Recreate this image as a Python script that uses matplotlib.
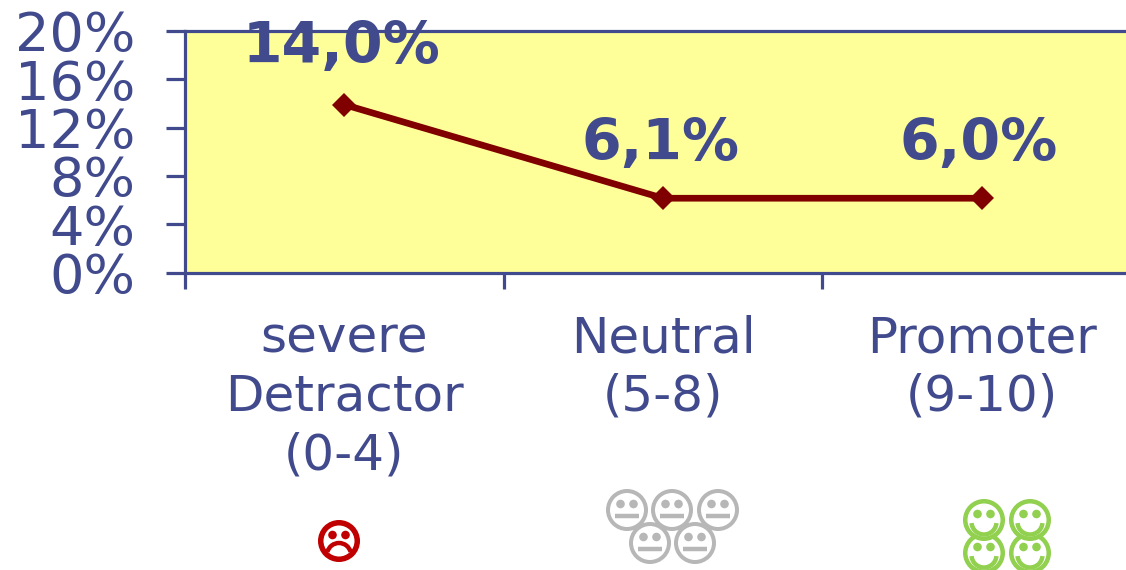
import matplotlib
matplotlib.use('Agg')
import matplotlib.pyplot as plt
from matplotlib.patches import Circle, Arc

categories = ['severe\nDetractor\n(0-4)', 'Neutral\n(5-8)', 'Promoter\n(9-10)']
rates = [13.9, 6.15, 6.15]
rate_labels = ['14,0%', '6,1%', '6,0%']
y_ticks = [0, 4, 8, 12, 16, 20]
y_tick_labels = ['0%', '4%', '8%', '12%', '16%', '20%']

blue = '#404A8C'
W, H = 1126, 570

plt.rcParams['font.family'] = 'DejaVu Sans'
fig = plt.figure(figsize=(W / 100, H / 100), dpi=100)

# plot area runs past the right edge of the picture
ax = fig.add_axes([185 / W, 1 - 272.5 / H, 956 / W, 241.5 / H])
ax.set_facecolor('#FFFF99')
ax.plot(range(3), rates, color='#800000', lw=4.8, marker='D', ms=12.5, mew=0, clip_on=False)

ax.set_xlim(-0.5, 2.5)
ax.set_ylim(0, 20)
ax.set_yticks(y_ticks)
ax.set_yticklabels(y_tick_labels)
ax.set_xticks(range(3))
ax.set_xticklabels(categories, linespacing=1.28)
ax.set_xticks([-0.5, 0.5, 1.5], minor=True)
ax.tick_params(axis='y', colors=blue, labelsize=39, length=14, width=2.3, pad=22)
ax.tick_params(axis='x', which='major', colors=blue, labelsize=36, length=0, pad=30)
ax.tick_params(axis='x', which='minor', color=blue, length=11.5, width=2.3)
for s in ax.spines.values():
    s.set_color(blue)
    s.set_linewidth(2.3)

for i, lab in enumerate(rate_labels):
    ax.annotate(lab, (i, rates[i]), xytext=(-2, 39 if i else 41), textcoords='offset points',
                ha='center', va='center', color=blue, fontsize=41, fontweight='bold')

# smiley icons, overlay in pixel coordinates
ov = fig.add_axes([0, 0, 1, 1], facecolor='none')
ov.set_xlim(0, W)
ov.set_ylim(H, 0)
ov.axis('off')


def face(x, y, color, mood, ring):
    ov.add_patch(Circle((x, y), 21 - ring / 2, fc='white', ec=color, lw=ring * 0.72))
    for dx in (-6.5, 6.5):
        ov.add_patch(Circle((x + dx, y - 6), 4.3, fc=color, ec='none'))
    if mood == 'sad':
        ov.add_patch(Arc((x, y + 14), 24, 24, theta1=195, theta2=345, ec=color, lw=3.2))
    elif mood == 'flat':
        ov.plot([x - 12, x + 12], [y + 6, y + 6], color=color, lw=3.2, solid_capstyle='butt')
    else:
        ov.add_patch(Arc((x, y + 2), 25, 25, theta1=5, theta2=175, ec=color, lw=3.2))


face(339, 541, '#C00000', 'sad', 5.5)
for x, y in [(627, 510), (672, 510), (718, 510), (650, 543), (695, 543)]:
    face(x, y, '#B7B7B7', 'flat', 4)
for x, y in [(984, 553), (1030, 553), (984, 520), (1030, 520)]:
    face(x, y, '#92D050', 'happy', 4.5)

fig.savefig('out.png', dpi=100)
